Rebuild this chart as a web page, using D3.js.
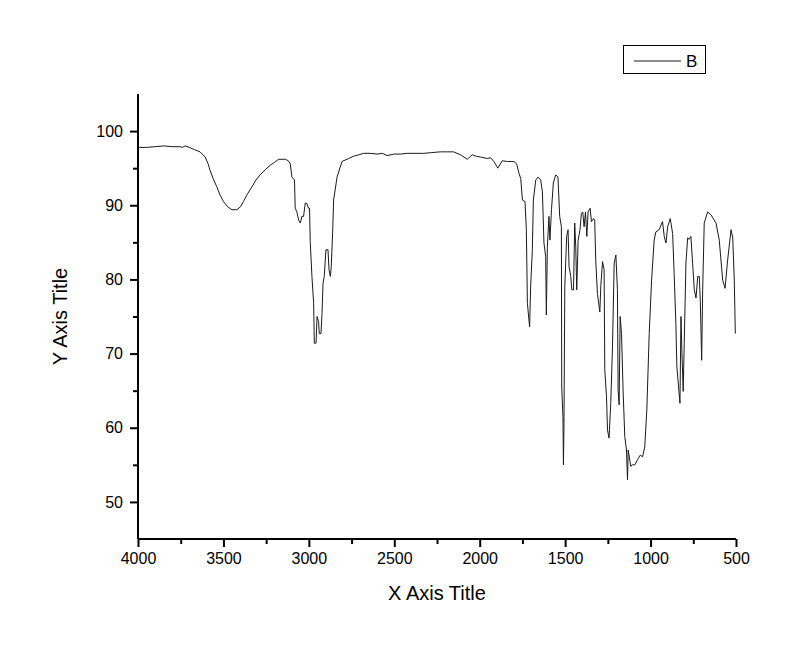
<!DOCTYPE html>
<html>
<head>
<meta charset="utf-8">
<script src="https://cdn.jsdelivr.net/npm/d3@7"></script>
<style>
  html, body { margin: 0; padding: 0; background: #fff; }
  svg { display: block; font-family: "Liberation Sans", Arial, sans-serif; }
</style>
</head>
<body>
<svg id="chart" width="800" height="650"></svg>
<script>
const wavenumbers = [
  4000, 3950, 3900, 3850, 3800, 3754, 3740, 3724, 3700, 3670, 3637, 3607, 3590, 3578, 3560, 3539, 3520, 3500, 3475, 3451,
  3421, 3400, 3383, 3360, 3333, 3310, 3285, 3255, 3226, 3200, 3177, 3138, 3120, 3109, 3099, 3084, 3080, 3070, 3060, 3050,
  3041, 3031, 3021, 3011, 3002, 2996, 2992, 2982, 2972, 2968, 2958, 2952, 2943, 2939, 2929, 2923, 2917, 2910, 2900, 2888,
  2882, 2874, 2869, 2861, 2855, 2835, 2806, 2767, 2740, 2708, 2680, 2640, 2600, 2570, 2542, 2500, 2460, 2425, 2380, 2329,
  2280, 2230, 2190, 2153, 2112, 2073, 2044, 2020, 1995, 1956, 1936, 1917, 1894, 1868, 1838, 1800, 1784, 1770, 1760, 1750,
  1735, 1727, 1721, 1708, 1702, 1692, 1686, 1672, 1659, 1643, 1633, 1624, 1614, 1610, 1604, 1595, 1589, 1580, 1569, 1555,
  1542, 1532, 1522, 1520, 1513, 1510, 1507, 1502, 1491, 1483, 1477, 1467, 1461, 1451, 1444, 1438, 1432, 1424, 1413, 1405,
  1397, 1389, 1381, 1373, 1366, 1354, 1346, 1334, 1327, 1321, 1311, 1297, 1291, 1281, 1272, 1268, 1258, 1252, 1243, 1233,
  1223, 1213, 1203, 1194, 1190, 1184, 1178, 1170, 1161, 1151, 1141, 1135, 1131, 1116, 1106, 1092, 1076, 1061, 1047, 1034,
  1022, 1008, 994, 979, 969, 950, 930, 920, 910, 900, 885, 871, 862, 852, 846, 836, 828, 822, 817, 809,
  803, 793, 783, 774, 764, 754, 744, 734, 724, 715, 709, 701, 695, 686, 666, 646, 617, 598, 578, 564,
  549, 529, 519, 510, 504
];
const transmittance = [
  97.8, 97.8, 97.9, 98.0, 97.9, 97.9, 97.8, 98.0, 97.8, 97.5, 97.2, 96.5, 95.6, 94.7, 93.6, 92.5, 91.4, 90.5, 89.8, 89.4,
  89.4, 89.8, 90.5, 91.5, 92.5, 93.4, 94.1, 94.8, 95.4, 95.8, 96.2, 96.2, 96.0, 95.6, 93.8, 93.4, 89.6, 89.1, 88.0, 87.6,
  88.5, 88.5, 90.3, 90.2, 89.6, 89.6, 85.1, 80.4, 76.8, 71.4, 71.4, 75.0, 74.3, 72.7, 72.7, 75.4, 79.5, 80.4, 84.0, 84.0,
  81.3, 80.4, 81.7, 86.2, 90.7, 93.8, 95.9, 96.3, 96.6, 96.8, 97.0, 97.0, 96.9, 97.0, 96.7, 96.9, 96.9, 97.0, 97.0, 97.0,
  97.1, 97.2, 97.2, 97.2, 96.8, 96.2, 96.8, 96.6, 96.5, 96.3, 96.4, 95.9, 95.0, 96.0, 95.9, 95.9, 95.6, 94.3, 93.6, 90.7,
  90.5, 86.7, 76.8, 73.6, 79.0, 84.0, 90.7, 93.4, 93.8, 93.4, 91.8, 84.9, 83.1, 75.2, 84.4, 88.5, 85.3, 89.4, 93.0, 94.1,
  93.8, 88.5, 87.1, 65.5, 61.5, 55.0, 60.0, 79.0, 85.8, 86.7, 81.7, 80.4, 78.6, 78.6, 87.6, 84.4, 78.6, 85.3, 86.7, 88.9,
  89.1, 87.1, 89.1, 85.8, 89.1, 89.6, 87.8, 88.2, 88.0, 82.6, 78.1, 75.6, 79.2, 82.4, 81.3, 67.8, 64.2, 59.7, 58.6, 63.3,
  70.9, 82.2, 83.3, 78.6, 65.1, 63.1, 75.0, 72.7, 65.1, 58.8, 57.0, 53.0, 57.0, 54.8, 55.0, 55.0, 55.7, 56.3, 56.1, 57.4,
  62.4, 72.7, 79.9, 85.3, 86.4, 86.7, 87.8, 85.8, 84.9, 87.1, 88.2, 86.2, 80.8, 74.1, 68.2, 65.5, 63.3, 75.0, 70.5, 64.9,
  71.4, 82.2, 85.6, 85.4, 85.8, 82.2, 78.6, 77.5, 80.4, 80.4, 77.2, 69.1, 78.6, 87.6, 89.1, 88.7, 87.6, 85.3, 79.9, 78.8,
  82.6, 86.7, 85.6, 79.9, 72.7
];
const xMajorTicks = [4000, 3500, 3000, 2500, 2000, 1500, 1000, 500];
const xMinorTicks = [3750, 3250, 2750, 2250, 1750, 1250, 750];
const yMajorTicks = [50, 60, 70, 80, 90, 100];
const yMinorTicks = [55, 65, 75, 85, 95];
const seriesName = "B";
const xTitle = "X Axis Title";
const yTitle = "Y Axis Title";

const svg = d3.select("#chart");
const mLeft = 138, mRight = 736, mTop = 94, mBottom = 539;

const x = d3.scaleLinear().domain([4000, 500]).range([mLeft, mRight]);
const y = d3.scaleLinear().domain([45, 105]).range([mBottom, mTop]);

const data = wavenumbers.map((w, i) => ({ w, t: transmittance[i] }));

// spectrum line
svg.append("path")
  .datum(data)
  .attr("fill", "none")
  .attr("stroke", "#1a1a1a")
  .attr("stroke-width", 1)
  .attr("d", d3.line().x(d => x(d.w)).y(d => y(d.t)));

// X axis
const xAxis = svg.append("g").attr("transform", `translate(0,${mBottom})`);
xAxis.call(d3.axisBottom(x).tickValues(xMajorTicks).tickSize(8).tickPadding(6).tickFormat(d3.format("d")));
xAxis.append("g").call(d3.axisBottom(x).tickValues(xMinorTicks).tickSize(5).tickFormat(""))
  .select(".domain").remove();
xAxis.selectAll(".domain").attr("stroke-width", 2).attr("d", `M${mLeft},0H${mRight}`);
xAxis.selectAll(".tick line").attr("stroke-width", 2);
xAxis.selectAll(".tick text").attr("font-size", 16).attr("fill", "#000")
  .attr("font-family", "'Liberation Sans', Arial, sans-serif");

// Y axis
const yAxis = svg.append("g").attr("transform", `translate(${mLeft},0)`);
yAxis.call(d3.axisLeft(y).tickValues(yMajorTicks).tickSize(8).tickPadding(7).tickFormat(d3.format("d")));
yAxis.append("g").call(d3.axisLeft(y).tickValues(yMinorTicks).tickSize(5).tickFormat(""))
  .select(".domain").remove();
yAxis.selectAll(".domain").attr("stroke-width", 2).attr("d", `M0,${mTop}V${mBottom}`);
yAxis.selectAll(".tick line").attr("stroke-width", 2);
yAxis.selectAll(".tick text").attr("font-size", 16).attr("fill", "#000")
  .attr("font-family", "'Liberation Sans', Arial, sans-serif");

// Axis titles
svg.append("text")
  .attr("x", (mLeft + mRight) / 2).attr("y", 600)
  .attr("text-anchor", "middle").attr("font-size", 20).attr("fill", "#000")
  .text(xTitle);
svg.append("text")
  .attr("transform", `translate(67,${(mTop + mBottom) / 2}) rotate(-90)`)
  .attr("text-anchor", "middle").attr("font-size", 20).attr("fill", "#000")
  .text(yTitle);

// Legend
const lg = svg.append("g");
lg.append("rect").attr("x", 623.5).attr("y", 45.5).attr("width", 82).attr("height", 28)
  .attr("fill", "#fff").attr("stroke", "#000").attr("stroke-width", 1);
lg.append("line").attr("x1", 634).attr("x2", 681).attr("y1", 61).attr("y2", 61)
  .attr("stroke", "#1a1a1a").attr("stroke-width", 1);
lg.append("text").attr("x", 686).attr("y", 67).attr("font-size", 17).attr("fill", "#000")
  .text(seriesName);
</script>
</body>
</html>
